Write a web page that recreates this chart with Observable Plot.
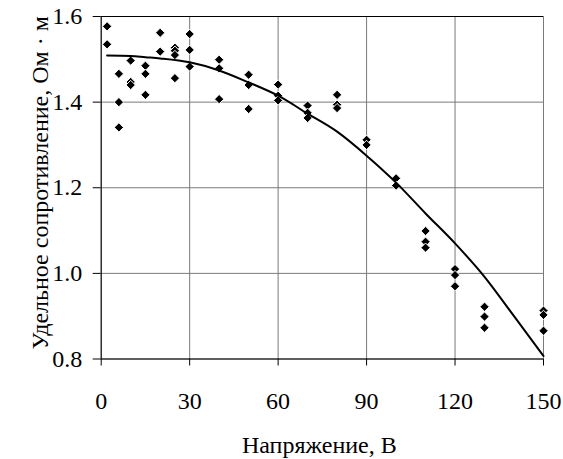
<!DOCTYPE html>
<html>
<head>
<meta charset="utf-8">
<script src="https://cdn.jsdelivr.net/npm/d3@7"></script>
<script src="https://cdn.jsdelivr.net/npm/@observablehq/plot@0.6"></script>
<style>
  html, body { margin: 0; padding: 0; background: #fff; }
  #chart svg text, #chart svg tspan { font-family: "Liberation Serif", serif !important; }
</style>
</head>
<body>
<div id="chart"></div>
<script>
// Measured points (voltage, V; resistivity, Ohm·m)
const volts = [
  2, 2,
  6, 6, 6,
  10, 10, 10,
  15, 15, 15,
  20, 20,
  25, 25, 25, 25,
  30, 30, 30,
  40, 40, 40,
  50, 50, 50,
  60, 60, 60,
  70, 70, 70,
  80, 80, 80,
  90, 90,
  100, 100,
  110, 110, 110,
  120, 120, 120,
  130, 130, 130,
  150, 150, 150
];
const resistivity = [
  1.577, 1.535,
  1.466, 1.400, 1.341,
  1.497, 1.447, 1.440,
  1.485, 1.466, 1.417,
  1.562, 1.518,
  1.527, 1.520, 1.510, 1.456,
  1.559, 1.522, 1.483,
  1.499, 1.479, 1.407,
  1.464, 1.440, 1.384,
  1.441, 1.415, 1.404,
  1.392, 1.375, 1.363,
  1.417, 1.394, 1.386,
  1.312, 1.300,
  1.222, 1.205,
  1.099, 1.074, 1.060,
  1.010, 0.996, 0.970,
  0.922, 0.899, 0.873,
  0.913, 0.903, 0.866
];

// Trend curve
const trendVolts = [2, 10, 15, 20, 30, 40, 50, 60, 70, 80, 90, 100, 110, 120, 130, 140, 150];
const trendRes   = [1.509, 1.508, 1.505, 1.502, 1.493, 1.474, 1.446, 1.415, 1.373, 1.331, 1.275, 1.212, 1.140, 1.070, 0.992, 0.900, 0.807];

const xTicks = [0, 30, 60, 90, 120, 150];
const yTicks = [0.8, 1.0, 1.2, 1.4, 1.6];

const xLabel = "Напряжение, В";
const yLabel = "Удельное сопротивление, Ом · м";

const points = volts.map((v, i) => ({v, r: resistivity[i]}));
const trend = trendVolts.map((v, i) => ({v, r: trendRes[i]}));

const font = "Liberation Serif";

const chart = Plot.plot({
  width: 563,
  height: 459,
  marginLeft: 100.7,
  marginRight: 20,
  marginTop: 16,
  marginBottom: 100.5,
  style: "background: #fff; color: #000;",
  x: {domain: [0, 150], ticks: xTicks, label: null, tickSize: 7, tickPadding: 25.5},
  y: {domain: [0.8, 1.6], ticks: yTicks, label: null, tickSize: 8, tickPadding: 11, tickFormat: d3.format(".1f")},
  marks: [
    Plot.gridX(xTicks, {stroke: "#7a7a7a", strokeOpacity: 1, strokeWidth: 1}),
    Plot.gridY(yTicks, {stroke: "#7a7a7a", strokeOpacity: 1, strokeWidth: 1}),
    Plot.ruleY([1.6], {stroke: "#000", strokeWidth: 1}),
    Plot.ruleY([0.8], {stroke: "#000", strokeWidth: 1}),
    Plot.ruleX([0], {stroke: "#000", strokeWidth: 1}),
    Plot.axisX({ticks: xTicks, tickSize: 7, tickPadding: 25.5, fontSize: 24, fontFamily: font}),
    Plot.axisY({ticks: yTicks, tickSize: 8, tickPadding: 11, tickFormat: d3.format(".1f"), fontSize: 24, fontFamily: font}),
    Plot.dot(points, {x: "v", y: "r", symbol: "diamond2", r: 4.2, fill: "#000", stroke: "#fff", strokeWidth: 1}),
    Plot.line(trend, {x: "v", y: "r", stroke: "#000", strokeWidth: 2, curve: "monotone-x"}),
    Plot.text([xLabel], {frameAnchor: "bottom", textAnchor: "middle", lineAnchor: "middle", dx: -3, dy: 86, fontSize: 24, fontFamily: font, fill: "#000"}),
    Plot.text([yLabel], {frameAnchor: "left", textAnchor: "middle", lineAnchor: "middle", rotate: -90, dx: -61, dy: -5, fontSize: 24, fontFamily: font, fill: "#000"})
  ]
});
// style only: drop Plot's class-based stylesheet and force the serif face on texts
chart.querySelectorAll("style").forEach(s => s.remove());
chart.removeAttribute("class");
chart.style.display = "block";
chart.setAttribute("font-family", font);
chart.querySelectorAll("g").forEach(el => el.setAttribute("font-family", font));
chart.querySelectorAll("text").forEach(el => {
  el.setAttribute("font-family", font);
  el.style.setProperty("font-family", "'Liberation Serif', serif", "important");
});
document.getElementById("chart").appendChild(chart);
</script>
</body>
</html>
